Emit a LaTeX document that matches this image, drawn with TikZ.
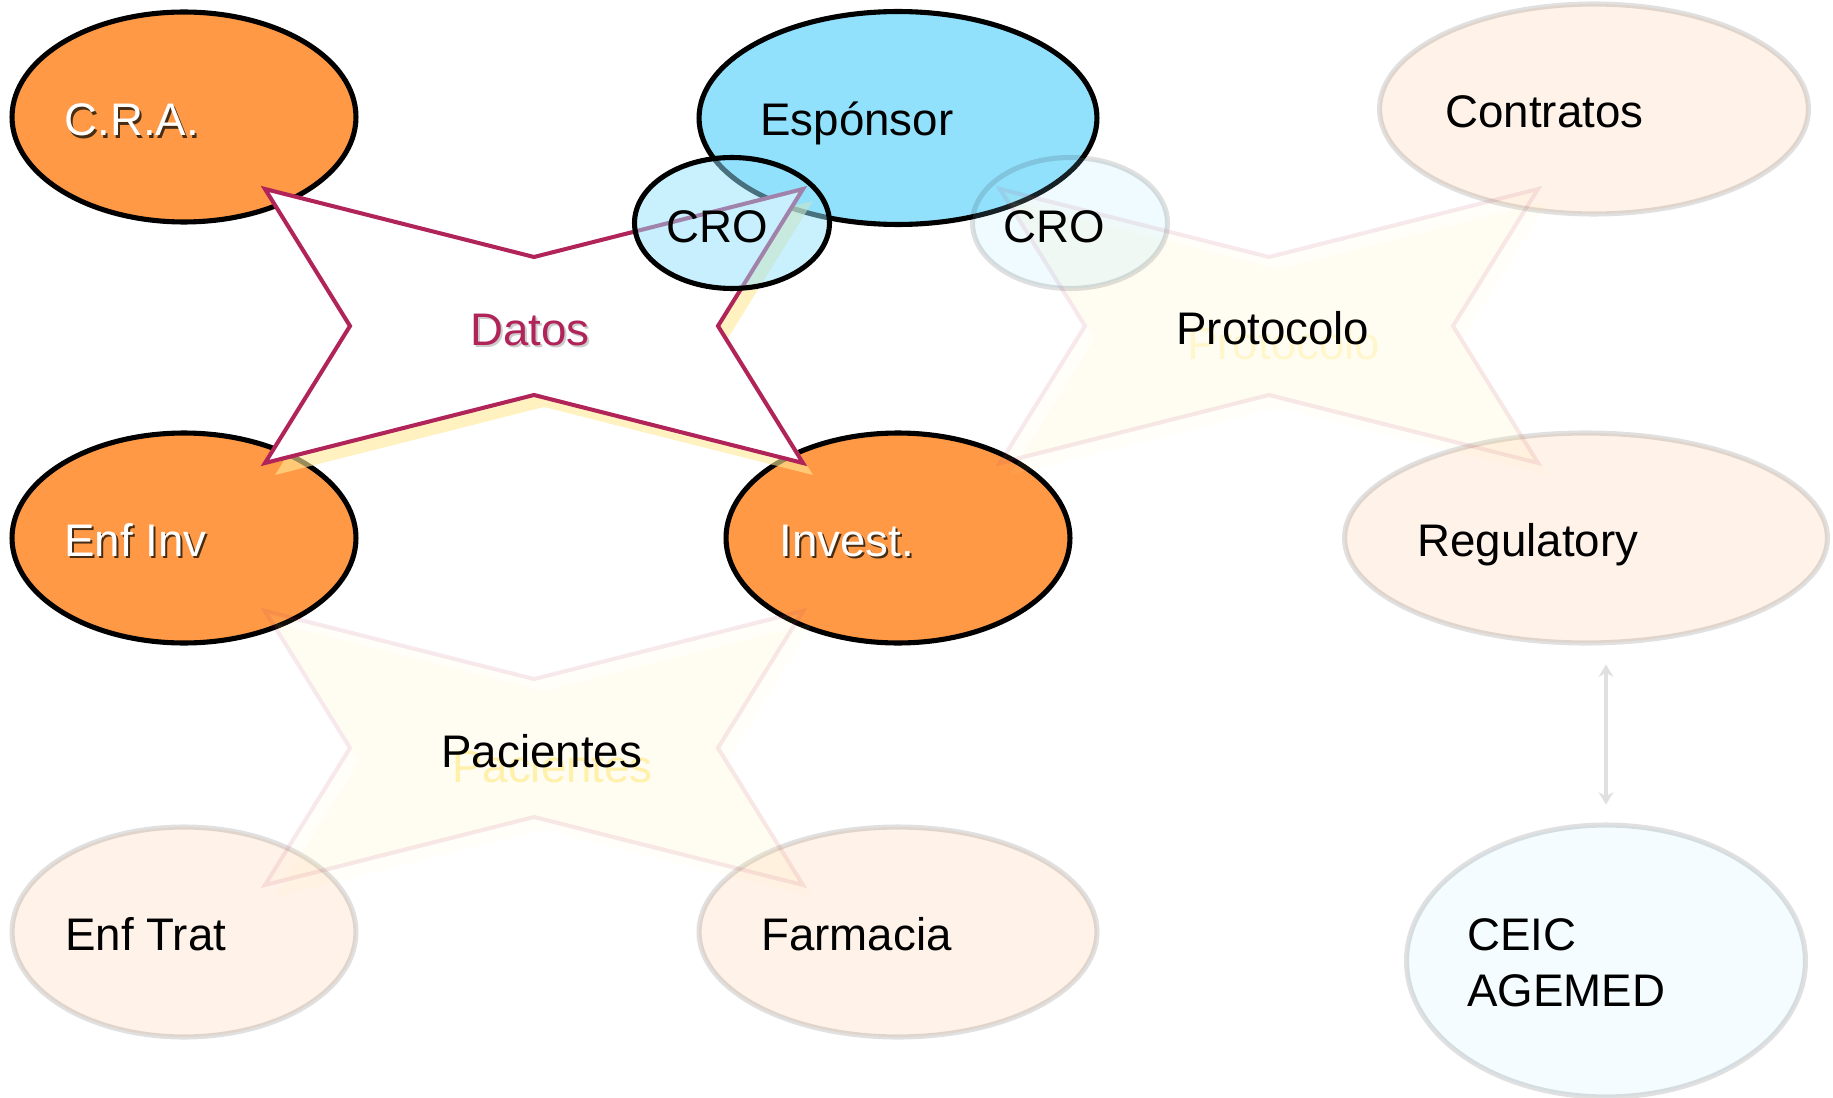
\documentclass[tikz,border=0pt]{standalone}
\usepackage{fontspec}
\setmainfont{Liberation Sans}
\usetikzlibrary{shapes.geometric, arrows.meta}

\definecolor{orangefill}{RGB}{255,153,70}
\definecolor{sponsorblue}{RGB}{146,225,252}
\definecolor{crimson}{RGB}{176,36,90}
\definecolor{starshade}{RGB}{255,234,150}
\definecolor{ghost}{RGB}{255,240,170}
\definecolor{shadowdark}{RGB}{70,45,20}
\definecolor{arrowgrey}{RGB}{224,224,224}

% text with a drop copy behind it
\newcommand{\shadowed}[4]{\makebox[0pt][l]{\kern#2\raisebox{-#3}{\textcolor{#1}{#4}}}#4}
% four-point star round a centre
\newcommand{\fourstar}[1]{(#1) ++(-269,-137) -- ++(269,68) -- ++(269,-68) -- ++(-85,137)
  -- ++(85,137) -- ++(-269,-68) -- ++(-269,68) -- ++(85,-137) -- cycle}

\begin{document}
\begin{tikzpicture}[
		x=0.02cm, y=-0.02cm,
		font=\fontsize{26}{31.8}\selectfont,
		bubble/.style = {ellipse, line width=2.9pt, inner sep=0pt, minimum height=4.2cm},
		hot/.style = {bubble, draw=black, fill=orangefill},
		sponsor/.style = {bubble, draw=black, fill=sponsorblue},
		faded/.style = {bubble, draw=black, draw opacity=0.12, fill=orangefill, fill opacity=0.12},
		cro/.style = {bubble, draw=black, fill=sponsorblue, fill opacity=0.5, minimum width=3.9cm, minimum height=2.62cm},
		fadedcro/.style = {cro, draw opacity=0.12, fill opacity=0.15},
		starline/.style = {draw=crimson, fill=white, line width=2.3pt, line join=miter},
		fadedstar/.style = {draw=crimson, draw opacity=0.1, fill=starshade, fill opacity=0.06, line width=2.3pt},
		lbl/.style = {anchor=base west, inner sep=0pt},
		duo/.style = {<->, >={Stealth[length=7pt, width=8.5pt]}, draw=arrowgrey, line width=2.2pt,
			shorten <=0.38cm, shorten >=0.36cm}
	]
	\useasboundingbox (0,0) rectangle (1833,1098);

	% Row 1.
	\node[hot, minimum width=6.88cm] (cra) at (184,117) {};
	\node[sponsor, minimum width=7.96cm, minimum height=4.26cm] (espo) at (898,118) {};
	\node[faded, minimum width=8.58cm] (contr) at (1594,109) {};
	% Row 2.
	\node[hot, minimum width=6.88cm] (enfinv) at (184,538) {};
	\node[hot, minimum width=6.88cm] (invest) at (898,538) {};
	\node[faded, minimum width=9.66cm] (regul) at (1586,538) {};
	% Row 3.
	\node[faded, minimum width=6.88cm] (enftrat) at (184,932) {};
	\node[faded, minimum width=7.96cm] (farm) at (898,932) {};
	\node[faded, fill=sponsorblue, fill opacity=0.1, minimum width=7.98cm, minimum height=5.44cm] (ceic) at (1606,961) {};

	\draw[duo] (ceic.north |- regul.south) -- (ceic.north);

	% Stars.
	\coordinate (sproto) at (1269,326);
	\coordinate (sprotoshd) at (1279,338);
	\coordinate (spaci) at (534,748);
	\coordinate (spacishd) at (544,760);
	\coordinate (sdatos) at (534,326);
	\coordinate (sdatosshd) at (544,338);

	\fill[starshade, opacity=0.07] \fourstar{sprotoshd};
	\draw[fadedstar] \fourstar{sproto};
	\fill[starshade, opacity=0.07] \fourstar{spacishd};
	\draw[fadedstar] \fourstar{spaci};

	\node[fadedcro] (crof) at (1070,223) {};

	\fill[starshade, opacity=0.6] \fourstar{sdatosshd};
	\draw[starline] \fourstar{sdatos};

	\node[cro] (cro) at (732,223) {};

	% Labels.
	\node[lbl, text=white] (cratxt) at (64,136) {\shadowed{shadowdark}{1.2pt}{1.2pt}{C.R.A.}};
	\node[lbl] (espotxt) at (760,136) {Espónsor};
	\node[lbl] (contrtxt) at (1445,128) {Contratos};
	\node[lbl] (crotxt) at (666,243) {CRO};
	\node[lbl] (croftxt) at (1003,243) {CRO};
	\node[lbl, text=crimson] (datostxt) at (470,345) {\shadowed{black!20}{1pt}{1.2pt}{Datos}};
	\node[lbl] (prototxt) at (1176,344) {\shadowed{ghost!60}{6.2pt}{9pt}{Protocolo}};
	\node[lbl, text=white] (enfinvtxt) at (64,556) {\shadowed{shadowdark}{1.2pt}{1.2pt}{Enf Inv}};
	\node[lbl, text=white] (investtxt) at (779,556) {\shadowed{shadowdark}{1.2pt}{1.2pt}{Invest.}};
	\node[lbl] (regultxt) at (1417,556) {Regulatory};
	\node[lbl] (pacitxt) at (441,767) {\shadowed{ghost}{6.2pt}{9pt}{Pacientes}};
	\node[lbl] (enftrattxt) at (65,950) {Enf Trat};
	\node[lbl] (farmtxt) at (761,950) {Farmacia};
	\node[anchor=west, inner sep=0pt, align=left] (ceictxt) at (1467,963) {CEIC\\AGEMED};
\end{tikzpicture}
\end{document}
